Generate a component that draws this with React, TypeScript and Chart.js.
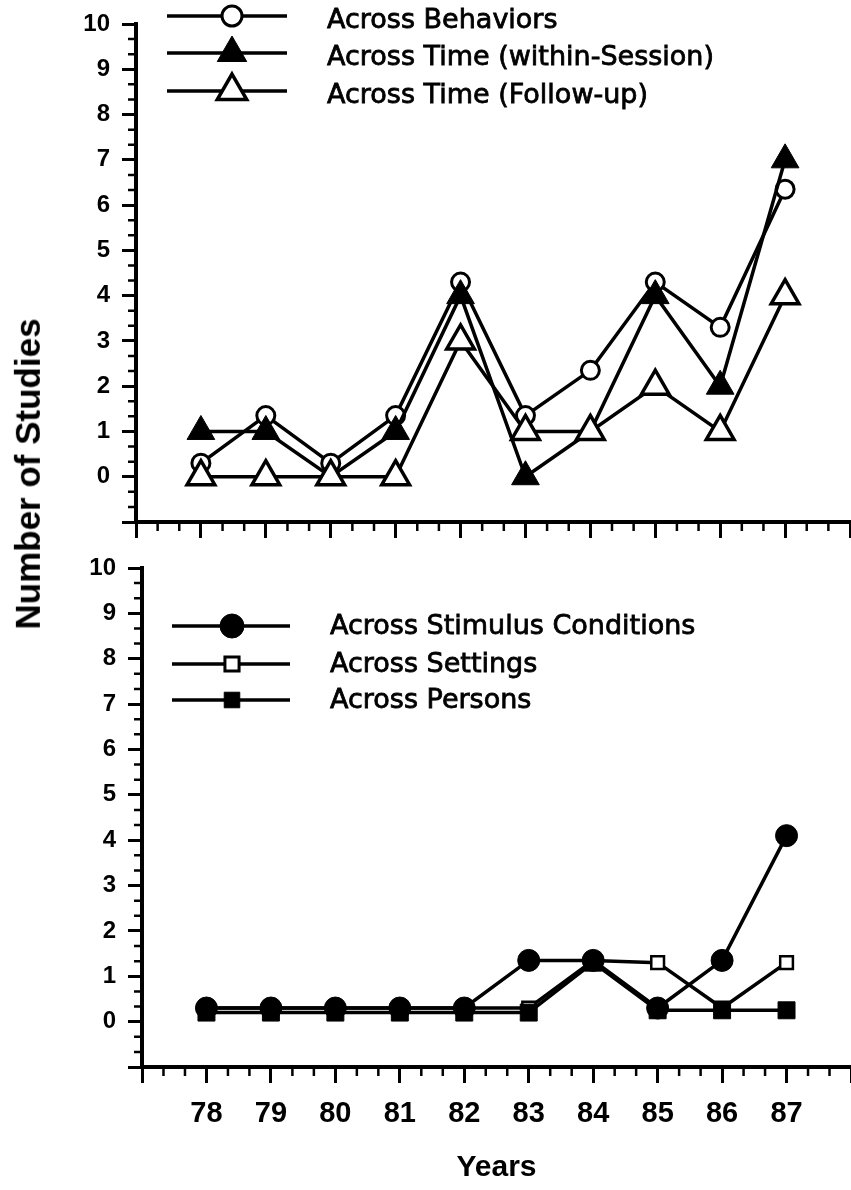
import React, { useEffect, useRef } from 'react';
import { Chart, registerables } from 'chart.js';

Chart.register(...registerables);

// ---------- data ----------
const years = [78, 79, 80, 81, 82, 83, 84, 85, 86, 87];
const xTickLabels = ['78', '79', '80', '81', '82', '83', '84', '85', '86', '87'];
const yTickLabels = ['0', '1', '2', '3', '4', '5', '6', '7', '8', '9', '10'];

// top panel
const acrossBehaviors = [0.3, 1.35, 0.3, 1.35, 4.3, 1.35, 2.35, 4.3, 3.3, 6.35];
const acrossTimeWithin = [1, 1, 0, 1, 4, 0, 1, 4, 2, 7];
const acrossTimeFollowUp = [0, 0, 0, 0, 3, 1, 1, 2, 1, 4];

// bottom panel
const acrossStimulus = [0.3, 0.3, 0.3, 0.3, 0.3, 1.35, 1.35, 0.3, 1.35, 4.1];
const acrossSettings = [0.3, 0.3, 0.3, 0.3, 0.3, 0.3, 1.35, 1.3, 0.3, 1.3];
const acrossPersons = [0.2, 0.2, 0.2, 0.2, 0.2, 0.2, 1.3, 0.25, 0.25, 0.25];

const SANS = '"Liberation Sans", Arial, Helvetica, sans-serif';
const LEG_FONT = '27px "DejaVu Sans", "Liberation Sans", sans-serif';

function mk(label: string, values: number[], style: string, radius: number, fill: string, order: number, pbw: number, lw = 3.5) {
  return {
    label,
    data: years.map((x, i) => ({ x, y: values[i] })),
    borderColor: '#000',
    borderWidth: lw,
    pointStyle: style,
    pointRadius: radius,
    pointHoverRadius: radius,
    pointBackgroundColor: fill,
    pointBorderColor: '#000',
    pointBorderWidth: pbw,
    order,
    tension: 0,
    fill: false,
  };
}

function drawMarker(ctx: CanvasRenderingContext2D, style: string, x: number, y: number, r: number, fill: string, bw: number) {
  ctx.beginPath();
  if (style === 'circle') {
    ctx.arc(x, y, r, 0, Math.PI * 2);
  } else if (style === 'triangle') {
    let rad = 0;
    const T = (Math.PI * 2) / 3;
    ctx.moveTo(x + Math.sin(rad) * r, y - Math.cos(rad) * r);
    rad += T;
    ctx.lineTo(x + Math.sin(rad) * r, y - Math.cos(rad) * r);
    rad += T;
    ctx.lineTo(x + Math.sin(rad) * r, y - Math.cos(rad) * r);
    ctx.closePath();
  } else {
    const s = Math.SQRT1_2 * r;
    ctx.rect(x - s, y - s, 2 * s, 2 * s);
  }
  ctx.fillStyle = fill;
  ctx.fill();
  if (bw > 0) {
    ctx.lineWidth = bw;
    ctx.strokeStyle = '#000';
    ctx.stroke();
  }
}

type LegendItem = { label: string; style: string; r: number; fill: string; bw: number };

function makeLegend(id: string, items: LegendItem[], x0: number, x1: number, xm: number, tx: number, rows: number[], textDy: number) {
  return {
    id,
    afterDraw(chart: any) {
      const ctx: CanvasRenderingContext2D = chart.ctx;
      ctx.save();
      items.forEach((it, i) => {
        const y = rows[i];
        ctx.beginPath();
        ctx.moveTo(x0, y);
        ctx.lineTo(x1, y);
        ctx.lineWidth = 3.5;
        ctx.strokeStyle = '#000';
        ctx.stroke();
        drawMarker(ctx, it.style, xm, y, it.r, it.fill, it.bw);
        ctx.fillStyle = '#000';
        ctx.strokeStyle = '#000';
        ctx.lineWidth = 0.8;
        ctx.font = LEG_FONT;
        ctx.textAlign = 'left';
        ctx.textBaseline = 'middle';
        ctx.fillText(it.label, tx, y + textDy);
        ctx.strokeText(it.label, tx, y + textDy);
      });
      ctx.restore();
    },
  };
}

const minorTicks = {
  id: 'minorTicks',
  afterDraw(chart: any) {
    const ctx: CanvasRenderingContext2D = chart.ctx;
    const xs = chart.scales.x;
    const ys = chart.scales.y;
    const { left, bottom } = chart.chartArea;
    ctx.save();
    ctx.strokeStyle = '#000';
    ctx.lineWidth = 2.5;
    ctx.beginPath();
    for (let k = 0; k <= 33; k++) {
      if (k % 3 === 0) continue;
      const py = ys.getPixelForValue(-1 + k / 3);
      ctx.moveTo(left - 8, py);
      ctx.lineTo(left, py);
    }
    for (let k = 0; k <= 33; k++) {
      if (k % 3 === 0) continue;
      const px = xs.getPixelForValue(77 + k / 3);
      ctx.moveTo(px, bottom);
      ctx.lineTo(px, bottom + 9);
    }
    ctx.stroke();
    ctx.restore();
  },
};

function scales(showX: boolean, xHeight: number) {
  return {
    x: {
      type: 'linear',
      min: 77,
      max: 88,
      afterFit: (s: any) => {
        s.height = xHeight;
        s.paddingLeft = 0;
        s.paddingRight = 0;
      },
      ticks: {
        stepSize: 1,
        autoSkip: false,
        maxRotation: 0,
        color: '#000',
        padding: 14,
        font: { family: SANS, size: 29, weight: 'bold' },
        callback: (v: any) => {
          if (!showX) return '';
          const i = years.indexOf(Number(v));
          return i >= 0 ? xTickLabels[i] : '';
        },
      },
      grid: {
        display: true,
        drawOnChartArea: false,
        drawTicks: true,
        tickLength: 16,
        tickWidth: 3,
        tickColor: '#000',
        color: '#000',
      },
      border: { display: true, width: 4, color: '#000' },
      title: showX
        ? {
            display: true,
            text: 'Years',
            color: '#000',
            font: { family: SANS, size: 30, weight: 'bold' },
            padding: { top: 0, bottom: 4 },
          }
        : { display: false },
    },
    y: {
      type: 'linear',
      min: -1,
      max: 10,
      afterFit: (s: any) => {
        s.width = 136;
        s.paddingTop = 0;
        s.paddingBottom = 0;
      },
      ticks: {
        stepSize: 1,
        autoSkip: false,
        color: '#000',
        padding: 12,
        font: { family: SANS, size: 24, weight: 'bold' },
        callback: (v: any) => yTickLabels[Number(v)] ?? '',
      },
      grid: {
        display: true,
        drawOnChartArea: false,
        drawTicks: true,
        tickLength: 14,
        tickWidth: 3,
        tickColor: '#000',
        color: '#000',
      },
      border: { display: true, width: 4, color: '#000' },
    },
  };
}

const baseOptions = (showX: boolean, xHeight: number, padTop: number, padRight: number) => ({
  responsive: false,
  maintainAspectRatio: false,
  animation: false,
  devicePixelRatio: 1,
  layout: { autoPadding: false, padding: { left: 0, top: padTop, right: padRight, bottom: 0 } },
  plugins: { legend: { display: false }, tooltip: { enabled: false } },
  scales: scales(showX, xHeight),
});

export default function App() {
  const topRef = useRef<HTMLCanvasElement>(null);
  const botRef = useRef<HTMLCanvasElement>(null);

  useEffect(() => {
    document.body.style.margin = '0';
    const topLegend = makeLegend(
      'legendTop',
      [
        { label: 'Across Behaviors', style: 'circle', r: 10, fill: '#fff', bw: 3 },
        { label: 'Across Time (within-Session)', style: 'triangle', r: 17, fill: '#000', bw: 1 },
        { label: 'Across Time (Follow-up)', style: 'triangle', r: 17, fill: '#fff', bw: 3.5 },
      ],
      167, 287, 232, 327, [16, 53, 91], 5
    );
    const botLegend = makeLegend(
      'legendBottom',
      [
        { label: 'Across Stimulus Conditions', style: 'circle', r: 12, fill: '#000', bw: 1 },
        { label: 'Across Settings', style: 'rect', r: 10, fill: '#fff', bw: 3 },
        { label: 'Across Persons', style: 'rect', r: 11, fill: '#000', bw: 1 },
      ],
      166, 284, 226, 324, [81, 119, 155], 1
    );

    const c1 = new Chart(topRef.current as HTMLCanvasElement, {
      type: 'line',
      data: {
        datasets: [
          mk('Across Behaviors', acrossBehaviors, 'circle', 9, '#fff', 3, 3),
          mk('Across Time (within-Session)', acrossTimeWithin, 'triangle', 16, '#000', 2, 1),
          mk('Across Time (Follow-up)', acrossTimeFollowUp, 'triangle', 16, '#fff', 1, 3.5),
        ],
      },
      options: baseOptions(false, 23, 24, 1) as any,
      plugins: [minorTicks, topLegend],
    } as any);

    const c2 = new Chart(botRef.current as HTMLCanvasElement, {
      type: 'line',
      data: {
        datasets: [
          mk('Across Stimulus Conditions', acrossStimulus, 'circle', 11, '#000', 2, 1),
          mk('Across Settings', acrossSettings, 'rect', 9, '#fff', 3, 2.5),
          mk('Across Persons', acrossPersons, 'rect', 12, '#000', 1, 1),
        ],
      },
      options: baseOptions(true, 123, 23, 0) as any,
      plugins: [minorTicks, botLegend],
    } as any);

    return () => {
      c1.destroy();
      c2.destroy();
    };
  }, []);

  return (
    <div style={{ position: 'relative', width: 851, height: 1190, background: '#fff', overflow: 'hidden' }}>
      <canvas
        ref={topRef}
        width={851}
        height={545}
        style={{ position: 'absolute', left: 0, top: 0, width: 851, height: 545 }}
      />
      <canvas
        ref={botRef}
        width={845}
        height={645}
        style={{ position: 'absolute', left: 6, top: 545, width: 845, height: 645 }}
      />
      <div
        style={{
          position: 'absolute',
          left: 28,
          top: 474,
          transform: 'translate(-50%, -50%) rotate(-90deg)',
          font: `bold 35px ${SANS}`,
          lineHeight: 1.15,
          whiteSpace: 'nowrap',
          color: '#000',
        }}
      >
        Number of Studies
      </div>
    </div>
  );
}
